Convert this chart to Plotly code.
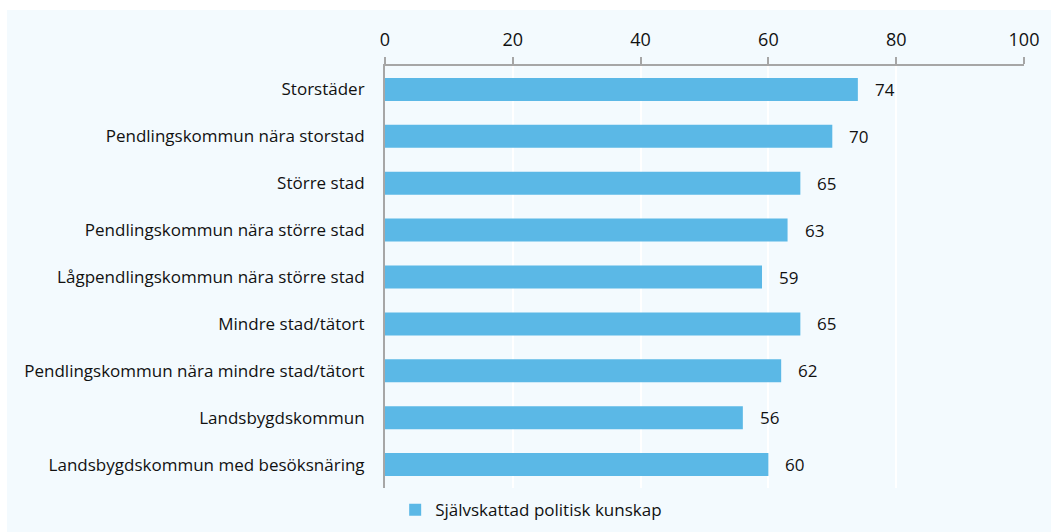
import plotly.graph_objects as go

# ── Data ──────────────────────────────────────────────────────────────────────
CATEGORIES = [
    "Storstäder",
    "Pendlingskommun nära storstad",
    "Större stad",
    "Pendlingskommun nära större stad",
    "Lågpendlingskommun nära större stad",
    "Mindre stad/tätort",
    "Pendlingskommun nära mindre stad/tätort",
    "Landsbygdskommun",
    "Landsbygdskommun med besöksnäring",
]
VALUES = [74, 70, 65, 63, 59, 65, 62, 56, 60]
SERIES_NAME = "Självskattad politisk kunskap"
X_TICKS = [0, 20, 40, 60, 80, 100]

# ── Palette ───────────────────────────────────────────────────────────────────
COLORS = {
    "bar":   "#5BB8E6",
    "bg":    "#F3FAFE",
    "axis":  "#A6A6A6",
    "text":  "#111111",
}
FONT = "Open Sans, sans-serif"

fig = go.Figure(go.Bar(
    y=CATEGORIES, x=VALUES,
    orientation="h",
    name=SERIES_NAME,
    marker=dict(color=COLORS["bar"], line=dict(width=0)),
    showlegend=True,
))

# value labels to the right of each bar
for cat, val in zip(CATEGORIES, VALUES):
    fig.add_annotation(
        x=val, y=cat, text=str(val), showarrow=False,
        xanchor="left", xshift=15,
        font=dict(family=FONT, size=17, color=COLORS["text"]),
    )

# thin white frame strips along the top and left edge of the picture
fig.add_shape(
    type="rect", xref="paper", yref="paper",
    x0=-0.7, x1=1.3, y0=1.1327, y1=1.4,
    fillcolor="#FFFFFF", line=dict(width=0), layer="below",
)
fig.add_shape(
    type="rect", xref="paper", yref="paper",
    x0=-0.7, x1=-0.5915, y0=-0.4, y1=1.4,
    fillcolor="#FFFFFF", line=dict(width=0), layer="below",
)

fig.update_layout(
    width=1051, height=532,
    paper_bgcolor=COLORS["bg"],
    plot_bgcolor=COLORS["bg"],
    font=dict(family=FONT, size=17, color=COLORS["text"]),
    margin=dict(l=385, r=27, t=66, b=44, autoexpand=False),
    bargap=0.51,
    showlegend=True,
    legend=dict(
        orientation="h",
        xref="container", x=0.376, xanchor="left",
        yref="container", y=0.075, yanchor="top",
        bgcolor="rgba(0,0,0,0)", font=dict(size=17),
    ),
)
fig.update_xaxes(
    side="top", range=[0, 100], tickvals=X_TICKS,
    showgrid=True, gridcolor="#FFFFFF", gridwidth=2,
    showline=True, linecolor=COLORS["axis"], linewidth=2,
    ticks="outside", ticklen=7, tickcolor=COLORS["axis"], tickwidth=2,
    ticklabelstandoff=4,
    zeroline=False, tickfont=dict(size=18),
)
fig.update_yaxes(
    range=[8.5, -0.5],
    showgrid=False, showline=True, linecolor=COLORS["axis"], linewidth=2,
    ticks="", ticklabelstandoff=15, zeroline=False,
)

fig.write_html(
    "out.html",
    config={"displayModeBar": False},
    post_script=(
        "document.documentElement.style.margin='0';"
        "document.documentElement.style.overflow='hidden';"
        "document.body.style.margin='0';"
        "document.body.style.overflow='hidden';"
        f"document.body.style.background='{COLORS['bg']}';"
    ),
)
